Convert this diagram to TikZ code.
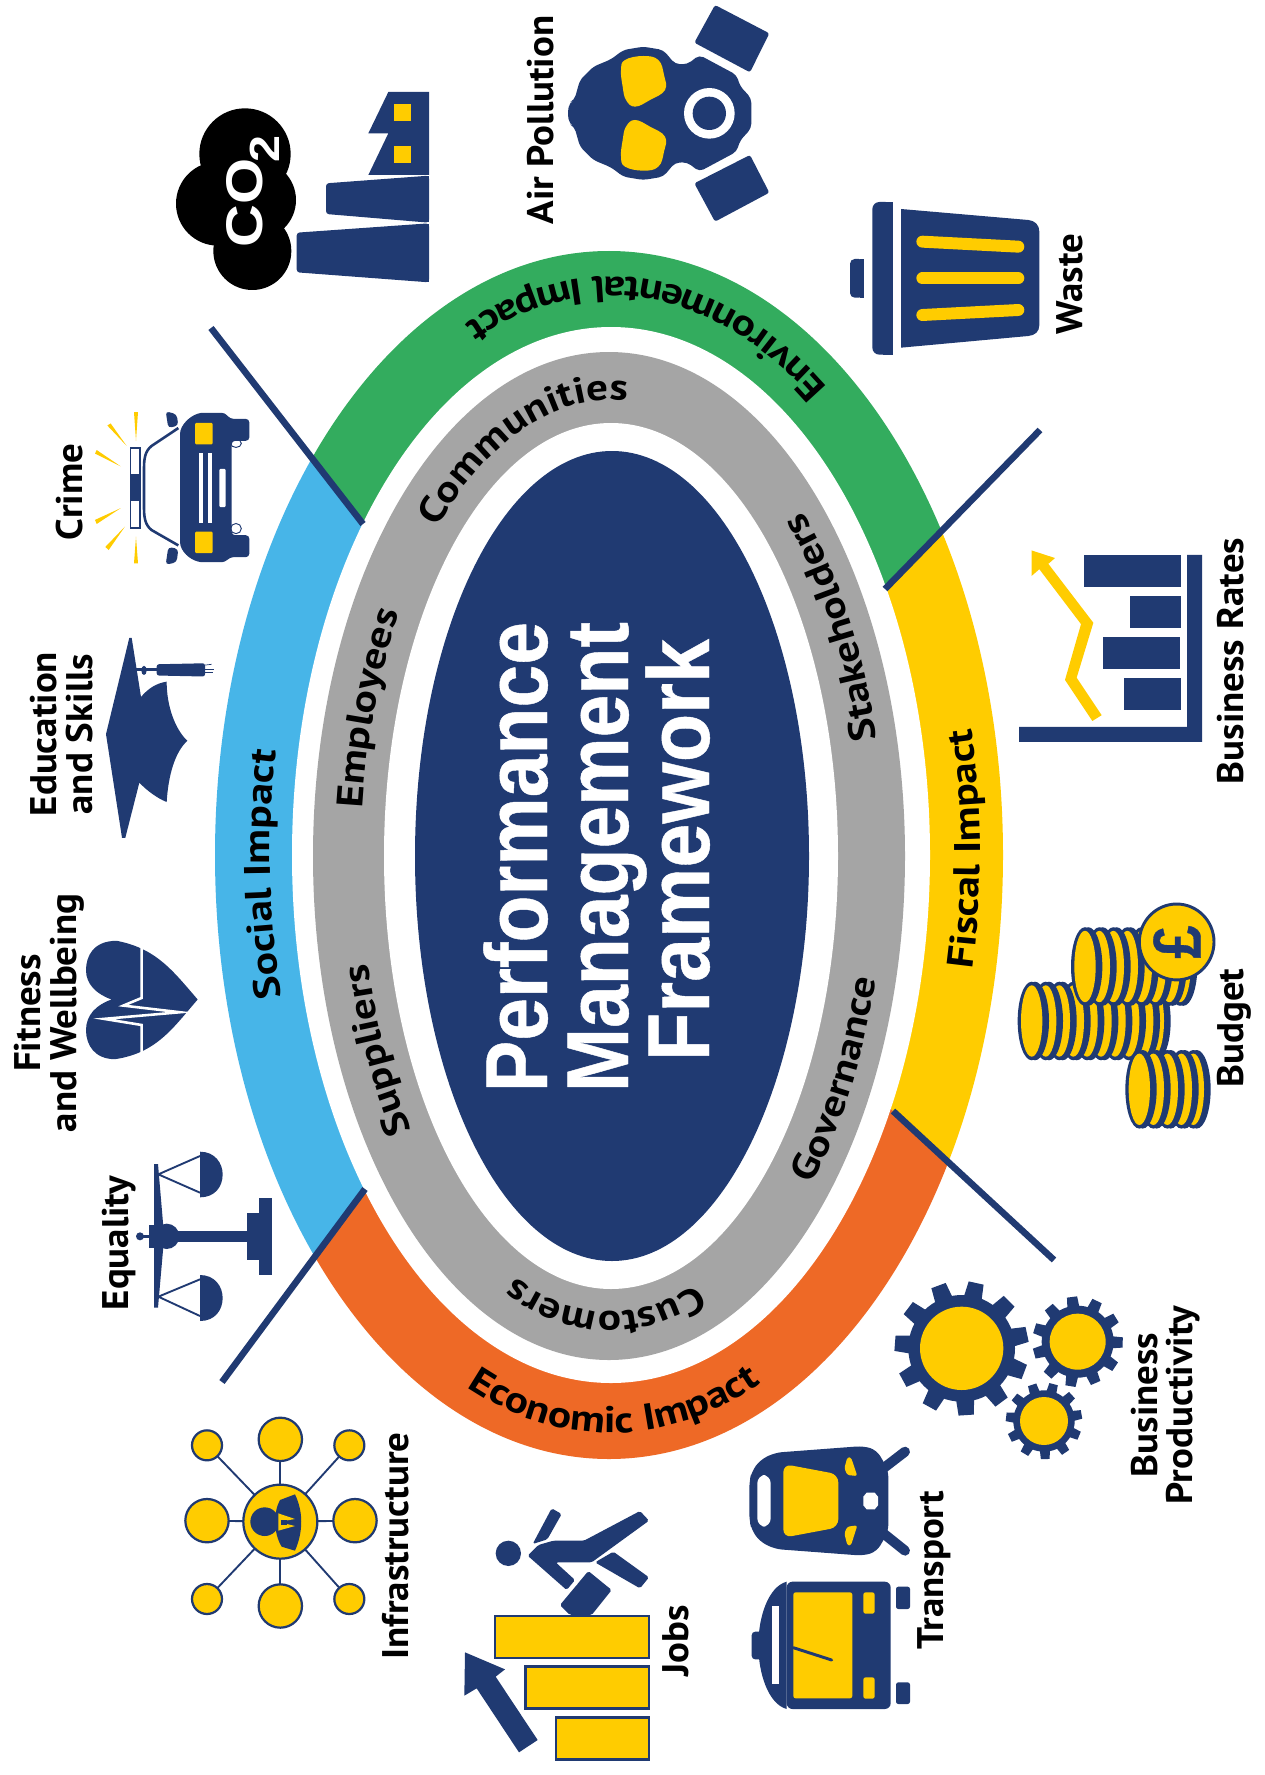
\documentclass[tikz,border=0pt]{standalone}
\usepackage{fontspec}
\usetikzlibrary{decorations.text}
\setmainfont{Liberation Sans}
\newfontfamily\dinf[FakeStretch=1.05]{PT Sans}
\newfontfamily\dinc[FakeStretch=1.17]{PT Sans}
\newfontfamily\bigf[FakeStretch=0.875,FakeBold=0.5]{Liberation Sans}
\newfontfamily\framef[FakeStretch=0.9,FakeBold=0.5]{Liberation Sans}
\newfontfamily\cof[FakeStretch=1.15]{Liberation Sans}
\newcommand\din{\dinf\bfseries\fontsize{31.6pt}{32pt}\selectfont}
\newcommand\dincv{\dinc\bfseries\fontsize{31.6pt}{32pt}\selectfont}
\newcommand\bigt{\bigf\bfseries\fontsize{75pt}{76pt}\selectfont}
\definecolor{navy}{HTML}{203A72}
\definecolor{gold}{HTML}{FFCC00}
\definecolor{grn}{HTML}{33AC5E}
\definecolor{sky}{HTML}{47B5E8}
\definecolor{org}{HTML}{EE6926}
\definecolor{gry}{HTML}{A5A5A5}
\tikzset{
  lab/.style={rotate=90,anchor=base,font=\din,inner sep=0pt,text=black},
  bigl/.style={rotate=90,anchor=base,font=\bigt,inner sep=0pt,text=white},
  divider/.style={draw=navy,line width=5.6pt},
  curved/.style={decorate,decoration={text along path,text align={left},text={|\dincv|#1}}},
  thinnavy/.style={draw=navy,line width=1.6pt},
  goldbar/.style={draw=navy,fill=gold,line width=2.2pt}
}
\newcommand\lbl[4]{\node[lab] (#1) at (#2,#3) {#4};}
\newcommand\coin[2]{\fill[navy] (#1,#2) ellipse [x radius=42,y radius=88];\fill[navy] (#1+10,#2) ellipse [x radius=42,y radius=88];\fill[gold] (#1,#2) ellipse [x radius=32,y radius=80];}
\newcommand\gearicon[7]{% cx cy R r hole phase (unused)
  \fill[navy] (#1,#2) circle [radius=#4];
  \foreach \i in {0,...,10}{
    \pgfmathsetmacro\a{#6+\i*32.727}
    \fill[navy] ([shift={(\a-10:#4-4)}]#1,#2) -- ([shift={(\a-6.5:#3)}]#1,#2) -- ([shift={(\a+6.5:#3)}]#1,#2) -- ([shift={(\a+10:#4-4)}]#1,#2) -- cycle;
  }
  \fill[gold] (#1,#2) circle [radius=#5];
}
\begin{document}
\begin{tikzpicture}[x=0.03cm,y=-0.03cm]
\useasboundingbox (0,0) rectangle (1264,1775);
\fill[white] (0,0) rectangle (1264,1775);
% ring
\begin{scope}
  \clip (609,855) ellipse [x radius=394,y radius=604];
  \fill[grn] (120,210)--(120,100)--(1133,100)--(1133,335)--(885,589)--(611,855)--(363,524)--cycle;
  \fill[gold] (1133,335)--(1200,335)--(1200,1346)--(1147,1346)--(893,1111)--(611,855)--(885,589)--cycle;
  \fill[org] (1147,1346)--(1147,1600)--(136,1600)--(136,1498)--(365,1189)--(611,855)--(893,1111)--cycle;
  \fill[sky] (136,1498)--(100,1498)--(100,210)--(120,210)--(363,524)--(611,855)--(365,1189)--cycle;
\end{scope}
\fill[white] (611,855) ellipse [x radius=319,y radius=528];
\fill[gry] (609,856) ellipse [x radius=296,y radius=504];
\fill[white] (611,856) ellipse [x radius=227,y radius=433];
\fill[navy] (612,856) ellipse [x radius=197,y radius=405];
% dividers
\draw[divider] (363,524)--(211,328);
\draw[divider] (885,589)--(1040,430);
\draw[divider] (365,1189)--(222,1382);
\draw[divider] (893,1111)--(1054,1260);
% centre title
\node[bigl] (t1) at (547,857) {Performance};
\node[bigl] (t2) at (628,857) {Management};
\node[bigl,font=\framef\bfseries\fontsize{75pt}{76pt}\selectfont] (t3) at (709,850) {Framework};
% curved texts
\path[curved={Environmental Impact}] plot[samples=120,domain=-54:-150] ({611+369*cos(\x)},{855+578*sin(\x)});
\path[curved={Fiscal Impact}] plot[samples=80,domain=11.4:-40] ({611+369*cos(\x)},{855+578*sin(\x)});
\path[curved={Economic Impact}] plot[samples=80,domain=113:40] ({611+369*cos(\x)},{855+578*sin(\x)});
\path[curved={Social Impact}] plot[samples=80,domain=165:225] ({611+341*cos(\x)},{855+551*sin(\x)});
\path[curved={Employees}] plot[samples=80,domain=186:270] ({611+250*cos(\x)},{856+456*sin(\x)});
\path[curved={Suppliers}] plot[samples=80,domain=143:210] ({611+250*cos(\x)},{856+456*sin(\x)});
\path[curved={Customers}] plot[samples=80,domain=70:140] ({611+250*cos(\x)},{856+456*sin(\x)});
\path[curved={Communities}] plot[samples=80,domain=226:320] ({611+250*cos(\x)},{856+456*sin(\x)});
\path[curved={Stakeholders}] plot[samples=80,domain=-14:-85] ({611+274*cos(\x)},{856+482*sin(\x)});
\path[curved={Governance}] plot[samples=80,domain=43:-20] ({611+274*cos(\x)},{856+482*sin(\x)});
% labels
\lbl{airp}{553}{120}{Air Pollution}
\lbl{waste}{1082}{284}{Waste}
\lbl{rates}{1243}{661}{Business Rates}
\lbl{budget}{1243}{1028}{Budget}
\lbl{crime}{82}{492}{Crime}
\lbl{edu1}{56}{734}{Education}
\lbl{edu2}{92}{734}{and Skills}
\lbl{fit1}{40}{1013}{Fitness}
\lbl{fit2}{76}{1013}{and Wellbeing}
\lbl{eq}{128}{1243}{Equality}
\lbl{infra}{408}{1546}{Infrastructure}
\lbl{jobs}{688}{1641}{Jobs}
\lbl{trans}{943}{1570}{Transport}
\lbl{bp1}{1157}{1405}{Business}
\lbl{bp2}{1192}{1405}{Productivity}
% CO2 factory
\begin{scope}[shift={(160,80)},scale=0.33333]
  \fill[black] (255,222) circle [radius=137];
  \fill[black] (174,371) circle [radius=126];
  \fill[black] (277,513) circle [radius=117];
  \fill[black] (290,360) circle [radius=118];
  \fill[navy] (685,36)--(807,36)--(807,285)--(625,285)--(685,160)--(625,160)--cycle;
  \fill[gold] (703,73) rectangle (753,123);
  \fill[gold] (703,198) rectangle (753,248);
  \fill[navy,rounded corners=2.5pt] (807,287)--(498,310)--(498,402)--(807,428)--cycle;
  \fill[navy] (800,288) rectangle (807,427);
  \fill[navy,rounded corners=2.5pt] (807,430)--(410,458)--(410,577)--(807,607)--cycle;
  \fill[navy] (800,431) rectangle (807,606);
\end{scope}
\node[rotate=90,anchor=base,inner sep=0pt,text=white,font=\cof\bfseries\fontsize{44pt}{44pt}\selectfont] (co) at (262,203) {CO};
\node[rotate=90,anchor=base,inner sep=0pt,text=white,font=\cof\bfseries\fontsize{36pt}{36pt}\selectfont] (two) at (279,149) {2};
% gas mask
\begin{scope}[shift={(510,0)},scale=0.33333]
  \fill[navy,rounded corners=2pt] (615,15)--(778,100)--(720,217)--(553,128)--cycle;
  \fill[navy,rounded corners=2pt] (553,550)--(720,465)--(778,578)--(615,665)--cycle;
  \fill[navy,rounded corners=4pt] (173,340)--(178,308)--(193,300)--(210,240)--(250,200)--(303,178)--(340,150)--(400,140)--(460,150)--(495,192)--(532,193)--(568,165)--(680,225)--(690,258)--(724,295)--(724,385)--(690,422)--(680,455)--(568,515)--(532,487)--(495,488)--(460,530)--(400,540)--(340,530)--(303,502)--(250,480)--(210,440)--(193,380)--(178,372)--cycle;
  \fill[gold] plot[smooth cycle,tension=.7] coordinates {(333,210) (345,180) (400,168) (445,180) (462,225) (465,270) (420,300) (375,320) (348,300) (338,260)};
  \fill[gold] plot[smooth cycle,tension=.7] coordinates {(333,470) (345,500) (400,512) (445,500) (462,455) (465,410) (420,380) (375,360) (348,380) (338,420)};
  \fill[white] (598,340) circle [radius=76];
  \fill[navy] (598,340) circle [radius=50];
\end{scope}
% waste bin
\begin{scope}[shift={(840,190)},scale=0.33333]
  \fill[navy,rounded corners=6pt] (158,36)--(97,36)--(97,494)--(158,494)--cycle;
  \fill[navy] (158,36) rectangle (130,494);
  \fill[navy,rounded corners=4pt] (71,207)--(30,207)--(30,323)--(71,323)--cycle;
  \fill[navy] (60,207) rectangle (71,323);
  \fill[navy] (183,57)--(565,90) .. controls (585,92) and (598,105) .. (598,125)--(598,405) .. controls (598,425) and (585,436) .. (565,438)--(183,473)--cycle;
  \draw[gold,line width=10.2pt,line cap=round] (247,155)--(535,170);
  \draw[gold,line width=10.2pt,line cap=round] (247,265)--(535,265);
  \draw[gold,line width=10.2pt,line cap=round] (247,375)--(535,360);
\end{scope}
% business rates
\begin{scope}[shift={(980,500)},xscale=0.33333,yscale=0.44643]
  \fill[navy] (621,123)--(666,123)--(666,542)--(117,542)--(117,508)--(621,508)--cycle;
  \fill[navy] (312,123) rectangle (603,195);
  \fill[navy] (450,215) rectangle (603,287);
  \fill[navy] (369,307) rectangle (600,379);
  \fill[navy] (432,399) rectangle (603,470);
  \fill[gold] (337,495)--(365,482)--(290,398)--(340,275)--(205,143)--(225,130)--(155,113)--(155,170)--(178,155)--(303,278)--(255,403)--cycle;
\end{scope}
% budget
\begin{scope}[shift={(980,500)},xscale=0.33333,yscale=0.44643]
  \foreach \x in {520,488,446,405,363,321,280,238,197,155}{\coin{\x}{1167}}
  \foreach \x in {600,568,526,484,442,400,358,315}{\coin{\x}{1045}}
  \fill[gold,draw=navy,line width=2.5pt] (590,990) ellipse [x radius=112,y radius=85];
  \foreach \x in {640,604,562,520,478}{\coin{\x}{1320}}
\end{scope}
\node[rotate=90,inner sep=0pt,text=navy,font=\bigf\bfseries\fontsize{58pt}{58pt}\selectfont] (pound) at (1177,942) {£};
% gears
\begin{scope}[shift={(890,1270)},scale=0.33333]
  \gearicon{215}{235}{202}{160}{125}{-77.5}{}
  \gearicon{563}{215}{136}{108}{84}{1}{}
  \gearicon{462}{453}{115}{92}{72}{-10}{}
\end{scope}
% transport
\begin{scope}[shift={(740,1440)},scale=0.33333]
  \draw[navy,line width=8.5pt,line cap=round] (430,85)--(495,35);
  \draw[navy,line width=8.5pt,line cap=round] (430,280)--(495,332);
  \fill[navy,rounded corners=6pt] (28,125)--(35,95)--(60,60)--(105,38)--(370,18)--(410,30)--(445,90)--(445,275)--(410,335)--(370,347)--(105,327)--(60,305)--(35,270)--(28,240)--cycle;
  \fill[gold,rounded corners=7pt] (130,72)--(295,103)--(295,262)--(130,293)--cycle;
  \fill[white,rounded corners=7pt] (52,105) rectangle (92,260);
  \fill[white] (370,170)--(380,158)--(404,158)--(414,170)--(414,196)--(404,208)--(380,208)--(370,196)--cycle;
  \fill[gold,rounded corners=2pt] (322,52)--(333,52)--(352,108)--(322,105)--(313,85)--cycle;
  \fill[gold,rounded corners=2pt] (322,316)--(333,316)--(352,256)--(322,260)--(313,280)--cycle;
  \fill[navy,rounded corners=3pt] (35,575) rectangle (70,658);
  \fill[navy,rounded corners=5pt] (140,425)--(452,425)--(452,807)--(140,807)--cycle;
  \fill[navy] (140,425) .. controls (85,440) and (55,530) .. (55,616) .. controls (55,700) and (85,792) .. (140,807)--cycle;
  \fill[gold,rounded corners=2pt] (160,457) rectangle (337,775);
  \fill[white] (96,498) rectangle (116,733);
  \fill[gold,rounded corners=2pt] (370,457) rectangle (404,521);
  \fill[gold,rounded corners=2pt] (370,712) rectangle (404,776);
  \fill[navy,rounded corners=2pt] (468,440) rectangle (510,507);
  \fill[navy,rounded corners=2pt] (468,727) rectangle (510,792);
  \draw[navy,line width=2.5pt,line cap=round] (160,623)--(275,660);
\end{scope}
% jobs
\begin{scope}[shift={(460,1500)},scale=0.33333]
  \draw[goldbar] (105,348) rectangle (567,474);
  \draw[goldbar] (197,500) rectangle (567,625);
  \draw[goldbar] (288,652) rectangle (567,778);
  \fill[navy] (15,457)--(135,508)--(107,530)--(233,720)--(177,757)--(50,565)--(13,587)--cycle;
  \fill[navy] (145,160) circle [radius=38];
  \fill[navy,rounded corners=1.5pt] (203,167)--(235,135)--(280,122)--(372,122)--(540,33)--(567,62)--(395,187)--(287,187)--(345,240)--(320,270)--cycle;
  \fill[navy,rounded corners=1.5pt] (405,187)--(460,155)--(567,232)--(540,265)--cycle;
  \fill[navy,rounded corners=1.5pt] (275,25)--(305,42)--(262,118)--(218,132)--cycle;
  \fill[navy,rounded corners=1.5pt] (300,315)--(385,213)--(455,270)--(395,345)--(330,345)--cycle;
  \draw[white,line width=1.5pt] (328,272)--(350,250);
\end{scope}
% infrastructure + equality
\begin{scope}[shift={(90,1140)},scale=0.33333]
  \fill[navy] (192,72)--(204,72)--(220,260)--(220,320)--(204,503)--(192,503)--cycle;
  \fill[navy] (176,255) rectangle (230,323);
  \fill[navy] (230,289) circle [radius=38];
  \fill[navy] (150,289) circle [radius=12];
  \fill[navy] (150,285) rectangle (180,293);
  \fill[navy] (260,272) rectangle (470,306);
  \fill[navy] (470,218) rectangle (508,360);
  \fill[navy] (508,173) rectangle (546,405);
  \fill[navy] (330,35) .. controls (375,35) and (398,70) .. (398,103) .. controls (398,140) and (375,172) .. (330,172)--cycle;
  \fill[navy] (330,405) .. controls (375,405) and (398,440) .. (398,474) .. controls (398,510) and (375,543) .. (330,543)--cycle;
  \draw[thinnavy] (330,48)--(205,103)--(330,158);
  \draw[thinnavy] (330,418)--(205,470)--(330,528);
  % network
  \foreach \cx/\cy in {351/916,778/916,351/1377,778/1377,351/1142,795/1142,571/898,571/1398}{\draw[thinnavy] (571,1145)--(\cx,\cy);}
  \foreach \cx/\cy in {351/916,778/916,351/1377,778/1377}{\draw[draw=navy,fill=gold,line width=1.9pt] (\cx,\cy) circle [radius=45];}
  \foreach \cx/\cy in {351/1142,795/1142,571/898,571/1398}{\draw[draw=navy,fill=gold,line width=1.9pt] (\cx,\cy) circle [radius=65];}
  \draw[draw=navy,fill=gold,line width=1.9pt] (571,1145) circle [radius=111];
  \fill[navy] (524,1145) circle [radius=43];
  \fill[navy] (570,1080)--(615,1063) .. controls (640,1115) and (640,1175) .. (615,1232)--(575,1220) .. controls (550,1180) and (550,1115) .. (570,1080)--cycle;
  \fill[gold] (565,1120)--(615,1137)--(582,1143)--(582,1150)--(615,1158)--(565,1172)--cycle;
  \fill[navy] (572,1140) rectangle (590,1155);
\end{scope}
% crime
\begin{scope}[shift={(0,400)},xscale=0.33333,yscale=0.5102]
  \fill[navy,rounded corners=3pt] (497,22)--(530,28)--(535,50)--(505,55)--cycle;
  \fill[navy,rounded corners=3pt] (497,323)--(530,318)--(535,292)--(505,288)--cycle;
  \draw[navy,line width=2.2pt] (535,55)--(455,90) .. controls (435,100) and (432,115) .. (432,135)--(432,210) .. controls (432,230) and (435,245) .. (455,255)--(535,285);
  \draw[navy,line width=0.8pt] (708,85) ellipse [x radius=16,y radius=8];
  \draw[navy,line width=0.8pt] (708,252) ellipse [x radius=16,y radius=10];
  \fill[navy,rounded corners=3pt] (540,60) .. controls (560,35) and (590,25) .. (620,25)--(675,25)--(690,37)--(748,37)--(748,80)--(695,80)--(695,265)--(748,265)--(748,308)--(690,308)--(675,318)--(620,318) .. controls (590,318) and (560,310) .. (540,285)--cycle;
  \fill[white] (597,103) rectangle (609,241);
  \fill[white] (623,103) rectangle (636,241);
  \fill[white,rounded corners=1pt] (658,135) rectangle (677,210);
  \fill[gold,rounded corners=1pt] (585,45) rectangle (638,87);
  \fill[gold,rounded corners=1pt] (585,258) rectangle (638,300);
  \fill[navy] (390,93) rectangle (422,252);
  \fill[white] (394,97) rectangle (418,146);
  \fill[white] (394,198) rectangle (418,248);
  \fill[gold] (402,24)--(414,24)--(408,80)--cycle;
  \fill[gold] (402,320)--(414,320)--(408,268)--cycle;
  \fill[gold] (322,50)--(332,46)--(380,90)--cycle;
  \fill[gold] (316,288)--(326,294)--(375,248)--cycle;
  \fill[gold] (285,105)--(290,98)--(362,130)--cycle;
  \fill[gold] (285,235)--(290,243)--(362,212)--cycle;
\end{scope}
% education
\begin{scope}[shift={(0,400)},xscale=0.33333,yscale=0.5102]
  \fill[navy] (388,466)--(395,466)--(423,582) .. controls (445,565) and (470,555) .. (500,552) .. controls (500,600) and (525,645) .. (562,668) .. controls (525,690) and (505,735) .. (500,788) .. controls (470,780) and (440,765) .. (418,750)--(376,858)--(366,858)--(318,655)--cycle;
  \fill[navy] (405,526) rectangle (470,532);
  \fill[navy] (432,530) ellipse [x radius=8,y radius=9];
  \fill[navy,rounded corners=2pt] (470,518)--(615,516)--(615,542)--(470,540)--cycle;
  \draw[navy,line width=0.6pt] (610,520)--(635,518);
  \draw[navy,line width=0.6pt] (610,527)--(642,527);
  \draw[navy,line width=0.6pt] (610,534)--(638,534);
\end{scope}
% heart
\begin{scope}[shift={(0,400)},xscale=0.33333,yscale=0.5102]
  \fill[navy] (593,1175) .. controls (520,1120) and (470,1075) .. (350,1060) .. controls (280,1060) and (258,1090) .. (258,1118) .. controls (258,1145) and (290,1165) .. (335,1175) .. controls (290,1185) and (258,1205) .. (258,1235) .. controls (258,1265) and (285,1292) .. (345,1292) .. controls (470,1280) and (520,1230) .. (593,1175)--cycle;
  \draw[white,line width=2.2pt] (425,1070)--(425,1172)--(370,1187)--(540,1200)--(312,1213)--(425,1225)--(425,1280);
\end{scope}
\end{tikzpicture}
\end{document}
